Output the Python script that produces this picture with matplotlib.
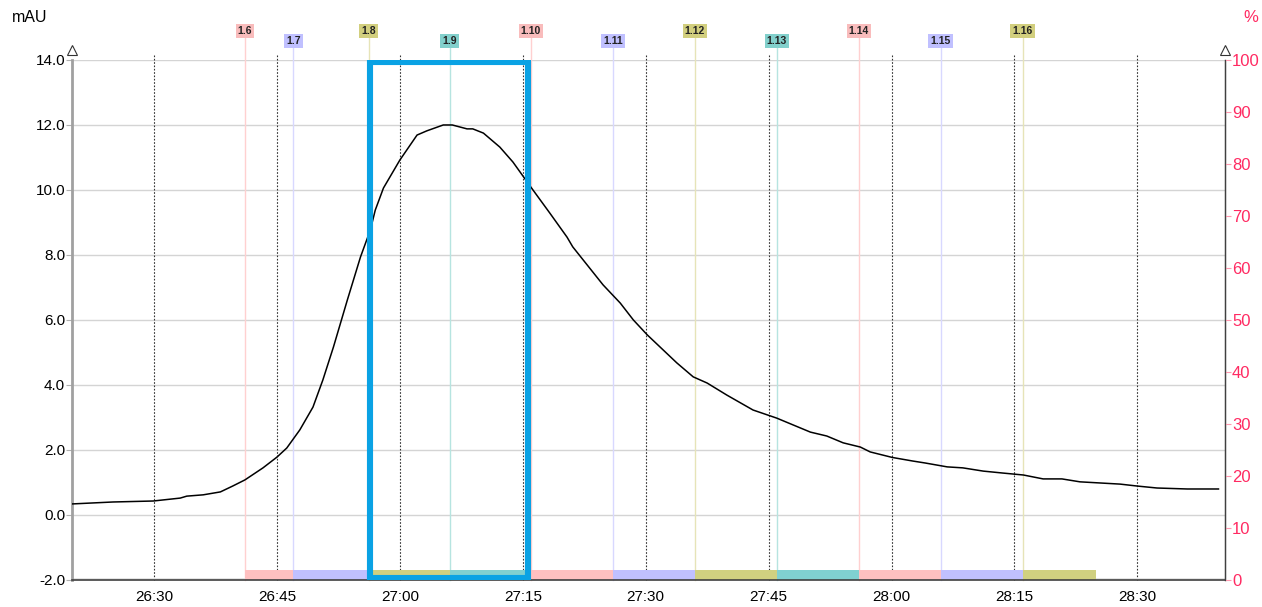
import matplotlib
matplotlib.use("Agg")
import matplotlib.pyplot as plt
from matplotlib.patches import Rectangle

plt.rcParams["font.family"] = ["Liberation Sans", "DejaVu Sans"]

# chromatogram trace: time in seconds, absorbance in mAU
time_s = [1580.0, 1585.0, 1589.9, 1593.2, 1594.0, 1596.0, 1598.1, 1599.6, 1601.1,
          1603.3, 1605.0, 1606.2, 1607.8, 1609.4, 1610.6, 1611.9, 1613.6, 1615.2,
          1616.4, 1617.0, 1618.0, 1620.0, 1622.1, 1623.3, 1625.3, 1626.4, 1628.2,
          1628.9, 1630.2, 1632.2, 1633.8, 1635.9, 1638.3, 1640.4, 1641.1, 1644.8,
          1646.9, 1648.5, 1650.2, 1653.8, 1655.8, 1657.5, 1659.9, 1663.1, 1666.0,
          1668.0, 1670.1, 1672.1, 1674.1, 1676.2, 1677.4, 1680.1, 1682.6, 1684.1,
          1686.8, 1688.7, 1691.2, 1693.6, 1696.1, 1698.5, 1700.8, 1703.0, 1707.9,
          1710.0, 1712.4, 1716.1, 1719.9]
mau = [0.34, 0.40, 0.43, 0.52, 0.58, 0.62, 0.71, 0.89, 1.08,
       1.45, 1.78, 2.06, 2.62, 3.32, 4.15, 5.17, 6.62, 7.94,
       8.77, 9.38, 10.06, 10.92, 11.69, 11.82, 12.0, 12.0, 11.88,
       11.88, 11.75, 11.32, 10.86, 10.12, 9.29, 8.55, 8.25, 7.08,
       6.52, 6.0, 5.54, 4.68, 4.25, 4.06, 3.69, 3.23, 2.98,
       2.77, 2.55, 2.43, 2.22, 2.09, 1.94, 1.77, 1.66, 1.60,
       1.48, 1.45, 1.35, 1.29, 1.23, 1.11, 1.11, 1.02, 0.95,
       0.89, 0.83, 0.80, 0.80]

# fractions
frac_names = ["1.6", "1.7", "1.8", "1.9", "1.10", "1.11", "1.12", "1.13",
              "1.14", "1.15", "1.16"]
frac_start = [1601.1, 1607.0, 1616.2, 1626.1, 1636.0, 1646.0, 1656.0, 1666.0,
              1676.0, 1686.0, 1696.0]
frac_end = 1705.0

# selection box (1.8 .. 1.10)
box_t = [1616.4, 1635.7]

x_ticks = [1590, 1605, 1620, 1635, 1650, 1665, 1680, 1695, 1710]
x_labels = ["26:30", "26:45", "27:00", "27:15", "27:30", "27:45", "28:00", "28:15", "28:30"]
y_ticks = [-2, 0, 2, 4, 6, 8, 10, 12, 14]
pct_ticks = [0, 10, 20, 30, 40, 50, 60, 70, 80, 90, 100]

label_bg = ["#F9BCBC", "#C0C0FF", "#D2CF7E", "#82D0CC"]
line_col = ["#FFD0D0", "#D8D8FF", "#E6E4B8", "#B6E4E0"]
bar_col = ["#FFC0C0", "#C0C0FF", "#D0D080", "#80D0D0"]
pink = "#FF2A62"

fig = plt.figure(figsize=(12.62, 6.07), dpi=100)
ax = fig.add_axes([0.0571, 0.0445, 0.9136, 0.8567])
ymin, ymax = -2.0, 14.0
xmin, xmax = 1580.0, 1720.7
ax.set_xlim(xmin, xmax)
ax.set_ylim(ymin, ymax)

for y in y_ticks:
    ax.axhline(y, color="#D4D4D4", lw=1.0, zorder=0)
for t in x_ticks:
    ax.plot([t, t], [ymin, ymax + 0.15], color="#333333", lw=0.8,
            ls=(0, (1.5, 1.5)), zorder=1, clip_on=False)

# fraction lines, labels and bottom bars
for i, (name, t0) in enumerate(zip(frac_names, frac_start)):
    c = i % 4
    high = (i % 2 == 0)
    ly = 14.89 if high else 14.58
    ax.plot([t0, t0], [ymin, ly - 0.15], color=line_col[c], lw=1.0,
            zorder=1, clip_on=False)
    ax.text(t0, ly, name, ha="center", va="center", fontsize=7.5,
            fontweight="bold", color="#222222", clip_on=False,
            bbox=dict(boxstyle="square,pad=0.2", fc=label_bg[c], ec="none"))
    t1 = frac_start[i + 1] if i + 1 < len(frac_start) else frac_end
    ax.add_patch(Rectangle((t0, ymin), t1 - t0, 0.30, fc=bar_col[c],
                           ec="none", zorder=2))
ax.add_patch(Rectangle((xmin, ymin), xmax - xmin, 0.06, fc="#E4E4E4",
                       ec="none", zorder=1.5))

ax.plot(time_s, mau, color="black", lw=1.1, zorder=4)

ax.add_patch(Rectangle((box_t[0], -1.93), box_t[1] - box_t[0], 15.88,
                       fill=False, ec="#0AA2E4", lw=4.4, zorder=5))

ax.set_xticks(x_ticks)
ax.set_xticklabels(x_labels)
ax.set_yticks(y_ticks)
ax.set_yticklabels([f"{v:.1f}" for v in y_ticks])
ax.tick_params(axis="x", length=0, labelsize=11, pad=7)
ax.tick_params(axis="y", length=4, color="#B0B0B0", labelsize=11, pad=1)

ax.spines["top"].set_visible(False)
ax.spines["left"].set_color("#A0A0A0")
ax.spines["left"].set_linewidth(2.0)
ax.spines["bottom"].set_color("#404040")
ax.spines["bottom"].set_linewidth(1.2)
ax.spines["right"].set_color("#404040")
ax.spines["right"].set_linewidth(1.0)

ax2 = ax.twinx()
ax2.set_ylim(0, 100)
ax2.set_yticks(pct_ticks)
ax2.set_yticklabels([str(v) for v in pct_ticks])
ax2.tick_params(axis="y", length=4, color="#FF9AB0", labelcolor=pink,
                labelsize=12, pad=1)
for s in ["top", "left", "bottom"]:
    ax2.spines[s].set_visible(False)
ax2.spines["right"].set_color("#404040")

# axis arrows
for xa in [xmin, xmax]:
    ax.plot([xa], [ymax + 0.32], marker="^", ms=7, mfc="white", mec="#333333",
            mew=0.8, clip_on=False, zorder=6)

fig.text(12 / 1262, 1 - 18 / 607, "mAU", fontsize=11.5, va="center", ha="left")
fig.text(1258 / 1262, 1 - 17 / 607, "%", fontsize=12, va="center", ha="right",
         color=pink)

fig.savefig("out.png", dpi=100)
